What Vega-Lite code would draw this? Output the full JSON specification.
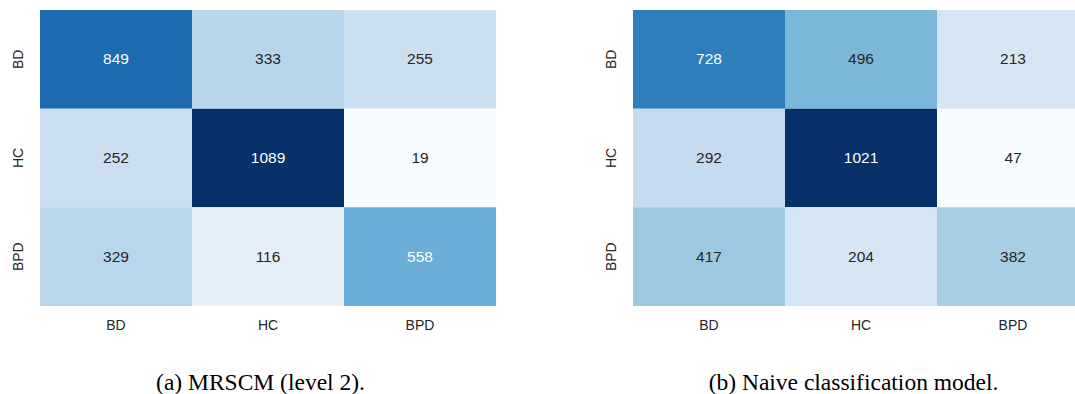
{
  "$schema": "https://vega.github.io/schema/vega-lite/v6.json",
  "background": "white",
  "padding": {"left": 11, "top": 10, "right": 0, "bottom": 0},
  "datasets": {
    "mrscm": [
      {"actual": "BD", "pred": "BD", "count": 849},
      {"actual": "BD", "pred": "HC", "count": 333},
      {"actual": "BD", "pred": "BPD", "count": 255},
      {"actual": "HC", "pred": "BD", "count": 252},
      {"actual": "HC", "pred": "HC", "count": 1089},
      {"actual": "HC", "pred": "BPD", "count": 19},
      {"actual": "BPD", "pred": "BD", "count": 329},
      {"actual": "BPD", "pred": "HC", "count": 116},
      {"actual": "BPD", "pred": "BPD", "count": 558}
    ],
    "naive": [
      {"actual": "BD", "pred": "BD", "count": 728},
      {"actual": "BD", "pred": "HC", "count": 496},
      {"actual": "BD", "pred": "BPD", "count": 213},
      {"actual": "HC", "pred": "BD", "count": 292},
      {"actual": "HC", "pred": "HC", "count": 1021},
      {"actual": "HC", "pred": "BPD", "count": 47},
      {"actual": "BPD", "pred": "BD", "count": 417},
      {"actual": "BPD", "pred": "HC", "count": 204},
      {"actual": "BPD", "pred": "BPD", "count": 382}
    ]
  },
  "hconcat": [
    {
      "width": 456,
      "height": 296,
      "data": {"name": "mrscm"},
      "encoding": {
        "x": {
          "field": "pred", "type": "nominal", "sort": ["BD", "HC", "BPD"],
          "scale": {"paddingInner": 0, "paddingOuter": 0},
          "axis": {"title": "(a) MRSCM (level 2).", "titleX": 220}
        },
        "y": {
          "field": "actual", "type": "nominal", "sort": ["BD", "HC", "BPD"],
          "scale": {"paddingInner": 0, "paddingOuter": 0},
          "axis": {"title": null}
        }
      },
      "layer": [
        {
          "mark": {"type": "rect"},
          "encoding": {
            "color": {
              "field": "count", "type": "quantitative", "legend": null,
              "scale": {
                "type": "linear", "interpolate": "rgb",
                "domain": [19, 152.75, 286.5, 420.25, 554, 687.75, 821.5, 955.25, 1089],
                "range": ["#f7fbff", "#deebf7", "#c6dbef", "#9ecae1", "#6baed6", "#4292c6", "#2171b5", "#08519c", "#08306b"]
              }
            }
          }
        },
        {
          "mark": {"type": "text", "font": "Liberation Sans", "fontSize": 15.5},
          "encoding": {
            "text": {"field": "count", "type": "quantitative"},
            "color": {"condition": {"test": "datum.count >= 500", "value": "white"}, "value": "#262626"}
          }
        }
      ],
      "resolve": {"scale": {"color": "independent"}}
    },
    {
      "width": 443,
      "height": 296,
      "data": {"name": "naive"},
      "encoding": {
        "x": {
          "field": "pred", "type": "nominal", "sort": ["BD", "HC", "BPD"],
          "scale": {"paddingInner": 0, "paddingOuter": 0, "range": [0, 456]},
          "axis": {"title": "(b) Naive classification model.", "titleX": 220}
        },
        "y": {
          "field": "actual", "type": "nominal", "sort": ["BD", "HC", "BPD"],
          "scale": {"paddingInner": 0, "paddingOuter": 0},
          "axis": {"title": null}
        }
      },
      "layer": [
        {
          "mark": {"type": "rect", "clip": true},
          "encoding": {
            "color": {
              "field": "count", "type": "quantitative", "legend": null,
              "scale": {
                "type": "linear", "interpolate": "rgb",
                "domain": [47, 168.75, 290.5, 412.25, 534, 655.75, 777.5, 899.25, 1021],
                "range": ["#f7fbff", "#deebf7", "#c6dbef", "#9ecae1", "#6baed6", "#4292c6", "#2171b5", "#08519c", "#08306b"]
              }
            }
          }
        },
        {
          "mark": {"type": "text", "font": "Liberation Sans", "fontSize": 15.5},
          "encoding": {
            "text": {"field": "count", "type": "quantitative"},
            "color": {"condition": {"test": "datum.count >= 600", "value": "white"}, "value": "#262626"}
          }
        }
      ],
      "resolve": {"scale": {"color": "independent"}}
    }
  ],
  "resolve": {"scale": {"color": "independent"}},
  "spacing": 137,
  "bounds": "flush",
  "config": {
    "view": {"stroke": null},
    "axis": {
      "domain": false, "ticks": false, "tickSize": 0, "grid": false,
      "labelFont": "Liberation Sans", "labelFontSize": 14, "labelColor": "#262626",
      "titleFont": "Liberation Serif", "titleFontSize": 23.5, "titleFontWeight": "normal", "titleColor": "black"
    },
    "axisX": {"labelAngle": 0, "labelPadding": 12, "titlePadding": 38},
    "axisY": {"labelAngle": -90, "labelAlign": "center", "labelBaseline": "bottom", "labelPadding": 15}
  }
}
